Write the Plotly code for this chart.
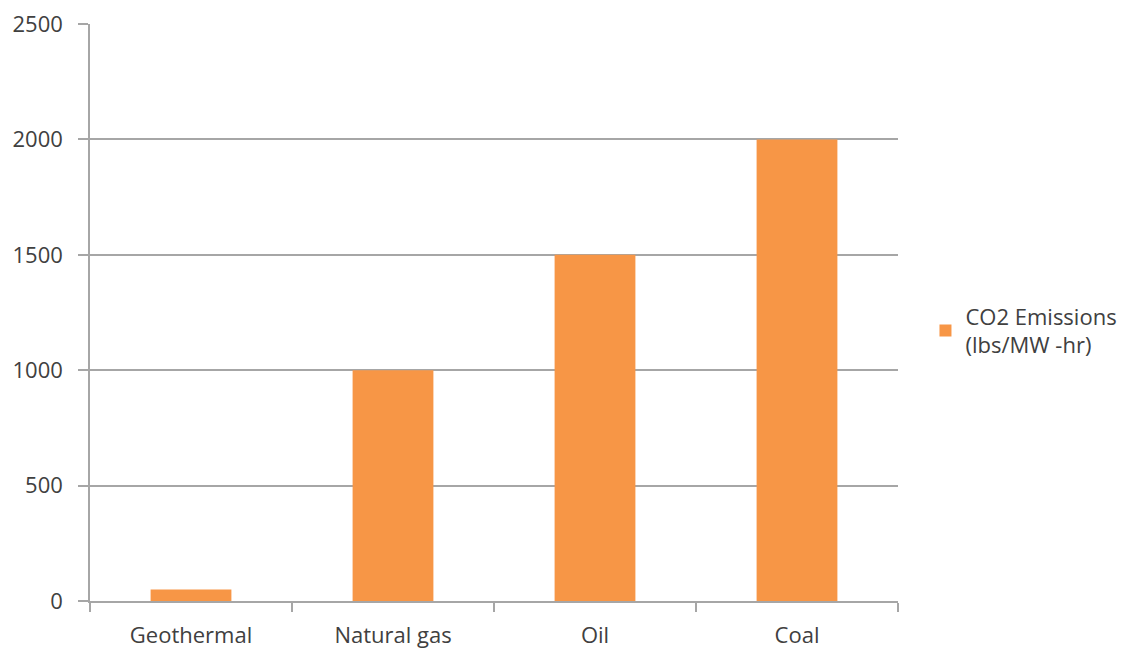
import plotly.graph_objects as go

# CO2 emissions by generation source
categories = ["Geothermal", "Natural gas", "Oil", "Coal"]
emissions = [50, 1000, 1500, 2000]
series_name = "CO2 Emissions<br>(lbs/MW -hr)"
y_ticks = [0, 500, 1000, 1500, 2000, 2500]

ORANGE = "#F79646"
GRID = "#A6A6A6"
TEXT = "#404040"
FONT = "Open Sans"

fig = go.Figure(
    go.Bar(
        x=categories,
        y=emissions,
        name=series_name,
        marker=dict(color=ORANGE, line=dict(width=0)),
        showlegend=True,
    )
)

fig.update_layout(
    width=1130,
    height=650,
    margin=dict(l=90, r=232, t=24, b=49, autoexpand=False),
    paper_bgcolor="white",
    plot_bgcolor="white",
    bargap=0.6,
    font=dict(family=FONT, size=22, color=TEXT),
    legend=dict(
        x=1.034,
        y=0.468,
        xanchor="left",
        yanchor="middle",
        font=dict(family=FONT, size=22, color=TEXT),
        itemwidth=30,
        bgcolor="rgba(0,0,0,0)",
    ),
)

fig.update_xaxes(
    automargin=False,
    showline=True,
    linecolor=GRID,
    linewidth=1.5,
    ticks="outside",
    tickson="boundaries",
    ticklen=9,
    tickcolor=GRID,
    tickwidth=1.5,
    showgrid=False,
    ticklabelstandoff=14,
    tickfont=dict(family=FONT, size=22, color=TEXT),
)

fig.update_yaxes(
    automargin=False,
    range=[0, 2500],
    tickvals=y_ticks,
    showline=True,
    linecolor=GRID,
    linewidth=1.5,
    ticks="outside",
    ticklen=10,
    tickcolor=GRID,
    tickwidth=1.5,
    showgrid=True,
    gridcolor=GRID,
    gridwidth=1.5,
    zeroline=False,
    ticklabelstandoff=11,
    tickfont=dict(family=FONT, size=22, color=TEXT),
)

fig.write_html("out.html")
